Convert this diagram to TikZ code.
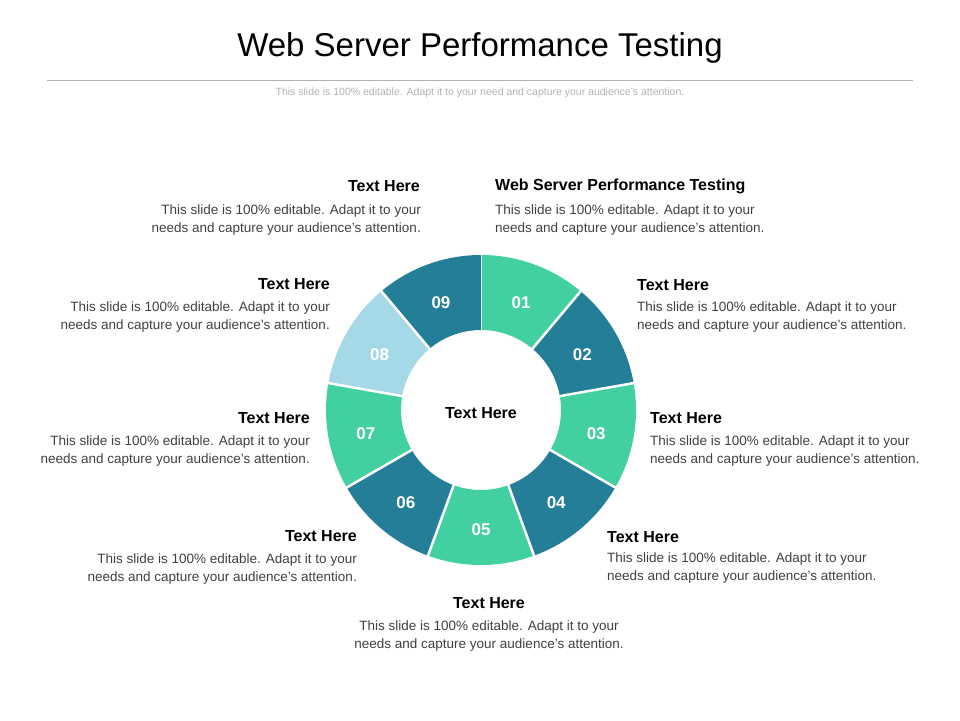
\documentclass[tikz,border=0pt]{standalone}
\usepackage{fontspec}
\setmainfont{Liberation Sans}
\begin{document}
\begin{tikzpicture}[x=1pt,y=-1pt,
  seg/.style={draw=white,line width=2.5pt},
  num/.style={text=white,font=\bfseries\fontsize{17}{20}\selectfont},
  head/.style={font=\bfseries\fontsize{16}{19}\selectfont,text=black,inner sep=0pt},
  body/.style={font=\fontsize{13.5}{18}\selectfont,text=black!75,inner sep=0pt}]
\definecolor{gr}{HTML}{42CFA1}
\definecolor{dk}{HTML}{247E98}
\definecolor{lb}{HTML}{A6D9E8}
\useasboundingbox (0,0) rectangle (960,720);
\node[font=\fontsize{33}{38}\selectfont] (title) at (480,48) {Web Server Performance Testing};
\draw[gray!60,line width=0.6pt] (47,80) coordinate (l1) -- (913,80) coordinate (l2);
\node[font=\fontsize{10.5}{12}\selectfont,text=gray!60] (sub) at (480,93) {This slide is 100\% editable. Adapt it to your need and capture your audience's attention.};
\def\cx{481}\def\cy{410}
\foreach \i/\c/\n in {0/gr/01,1/dk/02,2/gr/03,3/dk/04,4/gr/05,5/dk/06,6/gr/07,7/lb/08,8/dk/09}{
  \pgfmathsetmacro{\a}{90-40*\i}
  \pgfmathsetmacro{\b}{50-40*\i}
  \pgfmathsetmacro{\m}{70-40*\i}
  \fill[\c] ({\cx+155*cos(\a)},{\cy-155*sin(\a)}) arc[start angle=-\a,end angle=-\b,radius=155]
     -- ({\cx+80*cos(\b)},{\cy-80*sin(\b)}) arc[start angle=-\b,end angle=-\a,radius=80] -- cycle;
  \draw[seg] ({\cx+78*cos(\a)},{\cy-78*sin(\a)}) -- ({\cx+158*cos(\a)},{\cy-158*sin(\a)});
  \node[num] (n\n) at ({\cx+117*cos(\m)},{\cy-117*sin(\m)+3}) {\n};
}
\node[head] (center) at (481,413) {Text Here};
\def\bt{This slide is 100\% editable. Adapt it to your\\needs and capture your audience's attention.}
% right side
\node[head,anchor=west] (h1) at (495,186) {Web Server Performance Testing};
\node[body,anchor=north west,align=left] (b1) at (495,205) {\bt};
\node[head,anchor=west] (h2) at (637,285) {Text Here};
\node[body,anchor=north west,align=left] (b2) at (637,302) {\bt};
\node[head,anchor=west] (h3) at (650,418) {Text Here};
\node[body,anchor=north west,align=left] (b3) at (650,436) {\bt};
\node[head,anchor=west] (h4) at (607,537) {Text Here};
\node[body,anchor=north west,align=left] (b4) at (607,553) {\bt};
% left side
\node[head,anchor=east] (h9) at (420,186) {Text Here};
\node[body,anchor=north east,align=right] (b9) at (421,205) {\bt};
\node[head,anchor=east] (h8) at (330,284) {Text Here};
\node[body,anchor=north east,align=right] (b8) at (330,302) {\bt};
\node[head,anchor=east] (h7) at (310,418) {Text Here};
\node[body,anchor=north east,align=right] (b7) at (310,436) {\bt};
\node[head,anchor=east] (h6) at (357,536) {Text Here};
\node[body,anchor=north east,align=right] (b6) at (357,554) {\bt};
% bottom
\node[head] (h5) at (489,603) {Text Here};
\node[body,anchor=north,align=center] (b5) at (489,621) {\bt};
\end{tikzpicture}
\end{document}
